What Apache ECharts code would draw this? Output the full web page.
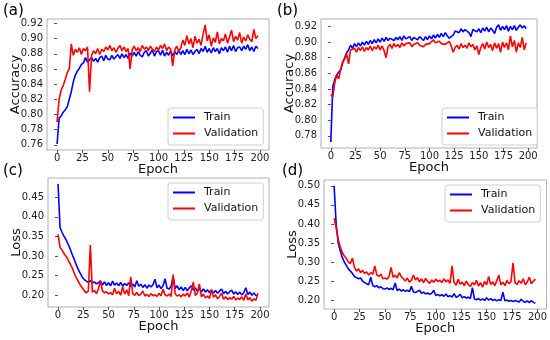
<!DOCTYPE html>
<html><head><meta charset="utf-8">
<script src="https://cdn.jsdelivr.net/npm/echarts@6/dist/echarts.min.js"></script>
<style>html,body{margin:0;padding:0;background:#fff}#c{width:550px;height:340px}</style>
</head><body><div id="c"></div>
<script>
// ---- data (one value every 2 epochs) ----
const epochs = Array.from({length: 100}, (_, i) => i * 2);
const xTicks = [0, 25, 50, 75, 100, 125, 150, 175, 200];
const yTicksA = [0.76, 0.78, 0.80, 0.82, 0.84, 0.86, 0.88, 0.90, 0.92];
const yTicksB = [0.78, 0.80, 0.82, 0.84, 0.86, 0.88, 0.90, 0.92];
const yTicksC = [0.20, 0.25, 0.30, 0.35, 0.40, 0.45];
const yTicksD = [0.20, 0.25, 0.30, 0.35, 0.40, 0.45, 0.50];
const seriesNames = ['Train', 'Validation'];
const panelLabels = ['(a)', '(b)', '(c)', '(d)'];

const trainAccA = [
0.761,0.795,0.798,0.803,0.806,0.810,0.820,0.830,0.843,0.852,
0.857,0.861,0.866,0.868,0.875,0.869,0.872,0.875,0.870,0.874,
0.869,0.875,0.877,0.871,0.878,0.873,0.872,0.878,0.873,0.876,
0.879,0.874,0.880,0.875,0.879,0.874,0.881,0.877,0.882,0.877,
0.883,0.878,0.876,0.882,0.884,0.877,0.881,0.885,0.877,0.883,
0.884,0.878,0.885,0.877,0.882,0.878,0.884,0.877,0.883,0.879,
0.885,0.879,0.884,0.879,0.886,0.880,0.885,0.879,0.883,0.886,
0.880,0.887,0.883,0.890,0.882,0.887,0.881,0.888,0.883,0.887,
0.880,0.888,0.884,0.889,0.882,0.890,0.884,0.891,0.883,0.888,
0.889,0.884,0.890,0.886,0.892,0.884,0.889,0.883,0.890,0.887];
const valAccA = [
0.790,0.820,0.832,0.838,0.846,0.855,0.860,0.893,0.878,0.886,
0.882,0.888,0.879,0.887,0.884,0.889,0.830,0.878,0.884,0.880,
0.887,0.879,0.886,0.883,0.889,0.885,0.891,0.884,0.888,0.882,
0.887,0.891,0.884,0.889,0.883,0.887,0.860,0.885,0.890,0.884,
0.888,0.883,0.891,0.886,0.889,0.884,0.890,0.886,0.883,0.889,
0.885,0.891,0.887,0.893,0.884,0.889,0.886,0.864,0.885,0.890,
0.883,0.888,0.898,0.891,0.904,0.893,0.900,0.888,0.903,0.894,
0.899,0.891,0.906,0.918,0.897,0.905,0.890,0.901,0.895,0.909,
0.893,0.900,0.897,0.906,0.894,0.902,0.911,0.896,0.903,0.898,
0.908,0.894,0.902,0.897,0.905,0.899,0.896,0.912,0.900,0.904];
const trainAccB = [
0.772,0.843,0.852,0.858,0.858,0.865,0.873,0.880,0.886,0.890,
0.896,0.892,0.898,0.894,0.899,0.895,0.900,0.896,0.901,0.897,
0.902,0.898,0.903,0.899,0.904,0.900,0.905,0.901,0.906,0.902,
0.905,0.907,0.902,0.906,0.903,0.907,0.902,0.908,0.904,0.903,
0.907,0.902,0.906,0.908,0.903,0.907,0.905,0.902,0.907,0.903,
0.908,0.904,0.909,0.905,0.910,0.906,0.911,0.907,0.912,0.908,
0.905,0.903,0.909,0.914,0.916,0.912,0.917,0.913,0.916,0.918,
0.912,0.907,0.916,0.918,0.913,0.917,0.912,0.918,0.914,0.919,
0.913,0.918,0.915,0.911,0.919,0.922,0.915,0.920,0.916,0.921,
0.914,0.920,0.916,0.921,0.915,0.919,0.922,0.918,0.921,0.917];
const valAccB = [
0.833,0.830,0.848,0.858,0.853,0.865,0.875,0.878,0.885,0.872,
0.890,0.888,0.892,0.887,0.893,0.889,0.894,0.888,0.893,0.890,
0.895,0.889,0.894,0.891,0.896,0.890,0.895,0.889,0.880,0.894,
0.897,0.892,0.898,0.894,0.897,0.893,0.899,0.895,0.898,0.896,
0.899,0.894,0.897,0.895,0.899,0.896,0.898,0.894,0.897,0.895,
0.898,0.896,0.903,0.899,0.897,0.901,0.898,0.900,0.897,0.899,
0.901,0.895,0.887,0.893,0.896,0.891,0.898,0.893,0.896,0.892,
0.899,0.894,0.897,0.890,0.895,0.884,0.893,0.898,0.891,0.900,
0.893,0.897,0.889,0.899,0.892,0.898,0.887,0.900,0.893,0.899,
0.890,0.908,0.894,0.902,0.887,0.899,0.893,0.906,0.890,0.899];
const trainLossC = [
0.484,0.372,0.360,0.350,0.341,0.330,0.318,0.304,0.292,0.278,
0.266,0.256,0.246,0.240,0.236,0.233,0.237,0.231,0.234,0.229,
0.232,0.237,0.226,0.234,0.225,0.232,0.224,0.236,0.226,0.231,
0.224,0.233,0.223,0.230,0.225,0.232,0.222,0.229,0.221,0.237,
0.223,0.228,0.220,0.227,0.218,0.226,0.221,0.227,0.241,0.219,
0.226,0.217,0.224,0.242,0.218,0.216,0.223,0.246,0.217,0.224,
0.214,0.221,0.212,0.220,0.211,0.219,0.224,0.213,0.219,0.210,
0.217,0.209,0.216,0.208,0.214,0.207,0.213,0.206,0.212,0.205,
0.211,0.216,0.204,0.210,0.203,0.209,0.213,0.203,0.209,0.202,
0.208,0.201,0.207,0.219,0.202,0.208,0.200,0.206,0.199,0.201];
const valLossC = [
0.355,0.322,0.315,0.306,0.299,0.290,0.280,0.270,0.256,0.245,
0.236,0.226,0.219,0.211,0.206,0.211,0.328,0.208,0.212,0.204,
0.216,0.237,0.211,0.206,0.209,0.203,0.207,0.201,0.218,0.204,
0.210,0.200,0.221,0.203,0.214,0.199,0.247,0.204,0.200,0.207,
0.199,0.203,0.211,0.198,0.202,0.197,0.204,0.199,0.201,0.197,
0.205,0.199,0.215,0.201,0.198,0.203,0.197,0.253,0.204,0.198,
0.201,0.196,0.203,0.198,0.206,0.195,0.212,0.234,0.199,0.206,
0.229,0.196,0.203,0.193,0.198,0.192,0.215,0.195,0.201,0.191,
0.197,0.205,0.190,0.196,0.189,0.194,0.190,0.197,0.188,0.193,
0.189,0.196,0.187,0.203,0.188,0.194,0.185,0.191,0.187,0.205];
const trainLossD = [
0.500,0.400,0.350,0.330,0.312,0.300,0.291,0.282,0.276,0.270,
0.262,0.259,0.256,0.258,0.250,0.246,0.243,0.240,0.260,0.238,
0.235,0.238,0.232,0.235,0.230,0.229,0.232,0.228,0.231,0.227,
0.245,0.225,0.229,0.224,0.227,0.223,0.226,0.222,0.236,0.221,
0.220,0.223,0.226,0.218,0.221,0.216,0.219,0.215,0.218,0.226,
0.212,0.215,0.211,0.214,0.210,0.216,0.209,0.212,0.208,0.217,
0.207,0.210,0.215,0.206,0.209,0.205,0.208,0.204,0.233,0.203,
0.201,0.204,0.200,0.203,0.199,0.206,0.200,0.204,0.199,0.202,
0.198,0.201,0.199,0.221,0.198,0.200,0.197,0.199,0.196,0.199,
0.197,0.195,0.202,0.197,0.194,0.198,0.193,0.199,0.194,0.192];
const valLossD = [
0.415,0.390,0.360,0.340,0.325,0.316,0.310,0.300,0.296,0.310,
0.286,0.276,0.282,0.272,0.278,0.270,0.274,0.266,0.272,0.268,
0.290,0.266,0.262,0.268,0.256,0.258,0.255,0.262,0.286,0.260,
0.265,0.258,0.272,0.262,0.256,0.250,0.258,0.247,0.252,0.266,
0.253,0.259,0.248,0.256,0.246,0.257,0.249,0.244,0.253,0.247,
0.255,0.249,0.252,0.246,0.256,0.248,0.253,0.244,0.290,0.246,
0.239,0.255,0.242,0.247,0.238,0.250,0.241,0.236,0.246,0.240,
0.252,0.237,0.246,0.234,0.249,0.240,0.262,0.241,0.248,0.238,
0.251,0.266,0.240,0.247,0.238,0.252,0.243,0.249,0.298,0.245,
0.241,0.251,0.244,0.256,0.240,0.248,0.260,0.243,0.250,0.255];

// ---- chart ----
const FONT = 'DejaVu Sans';
const panels = [
  {train: trainAccA, val: valAccA, yTicks: yTicksA, yName: 'Accuracy',
   grid: {left: 47, top: 19, width: 222, height: 131}, legend: {left: 168, top: 108}, label: {left: 3, top: 4}},
  {train: trainAccB, val: valAccB, yTicks: yTicksB, yName: 'Accuracy',
   grid: {left: 321, top: 19, width: 216, height: 129}, legend: {left: 442, top: 108}, label: {left: 277, top: 4}},
  {train: trainLossC, val: valLossC, yTicks: yTicksC, yName: 'Loss',
   grid: {left: 48, top: 178, width: 221, height: 129}, legend: {left: 168, top: 183}, label: {left: 3, top: 164}},
  {train: trainLossD, val: valLossD, yTicks: yTicksD, yName: 'Loss',
   grid: {left: 324, top: 180, width: 223, height: 129}, legend: {left: 445, top: 185}, label: {left: 282, top: 164}}
];

const grid = [], xAxis = [], yAxis = [], series = [], legend = [], graphic = [];
const xMin = 0, xMax = 199, xPad = (xMax - xMin) * 0.05;
panels.forEach((p, i) => {
  const all = p.train.concat(p.val);
  const lo = Math.min(...all), hi = Math.max(...all), pad = (hi - lo) * 0.05;
  grid.push(Object.assign({show: true, borderColor: '#b0b0b0', borderWidth: 1, backgroundColor: '#fff'}, p.grid));
  xAxis.push({
    gridIndex: i, type: 'value', min: xMin - xPad, max: xMax + xPad,
    name: 'Epoch', nameLocation: 'middle', nameGap: 13, nameMoveOverlap: false,
    nameTextStyle: {fontFamily: FONT, fontSize: 13, color: '#111'},
    axisLine: {show: false},
    axisTick: {show: true, length: 3, inside: false, customValues: xTicks, lineStyle: {color: '#555'}},
    axisLabel: {customValues: xTicks, fontFamily: FONT, fontSize: 10, color: '#222', margin: 3},
    splitLine: {show: false}
  });
  yAxis.push({
    gridIndex: i, type: 'value', min: lo - pad, max: hi + pad,
    name: p.yName, nameLocation: 'middle', nameGap: 25, nameRotate: 90, nameMoveOverlap: false,
    nameTextStyle: {fontFamily: FONT, fontSize: 13, color: '#111'},
    axisLine: {show: false},
    axisTick: {show: true, length: 3, inside: false, customValues: p.yTicks, lineStyle: {color: '#555'}},
    axisLabel: {customValues: p.yTicks, fontFamily: FONT, fontSize: 10, color: '#222', margin: 4,
      formatter: v => v.toFixed(2)},
    splitLine: {show: false}
  });
  series.push({
    name: seriesNames[0], type: 'line', xAxisIndex: i, yAxisIndex: i, showSymbol: false, animation: false,
    lineStyle: {color: '#0000ff', width: 1.6}, itemStyle: {color: '#0000ff'},
    data: epochs.map((e, k) => [e, p.train[k]])
  });
  series.push({
    name: seriesNames[1], type: 'line', xAxisIndex: i, yAxisIndex: i, showSymbol: false, animation: false,
    lineStyle: {color: '#ff0000', width: 1.6}, itemStyle: {color: '#ff0000'},
    data: epochs.map((e, k) => [e, p.val[k]])
  });
  legend.push(Object.assign({
    orient: 'vertical', data: seriesNames, icon: 'rect', itemWidth: 22, itemHeight: 2, itemGap: 3,
    padding: [3, 5, 5, 5], backgroundColor: 'rgba(255,255,255,0.85)', borderColor: '#d0d0d0',
    borderWidth: 1, borderRadius: 3, selectedMode: false,
    textStyle: {fontFamily: FONT, fontSize: 11, color: '#111', lineHeight: 13, padding: [0, 0, 0, 4]}
  }, p.legend));
  graphic.push({type: 'text', left: p.label.left, top: p.label.top,
    style: {text: panelLabels[i], font: '15px "' + FONT + '"', fill: '#000'}});
});

const chart = echarts.init(document.getElementById('c'), null, {renderer: 'canvas'});
chart.setOption({animation: false, grid, xAxis, yAxis, series, legend, graphic});
</script>
</body></html>
